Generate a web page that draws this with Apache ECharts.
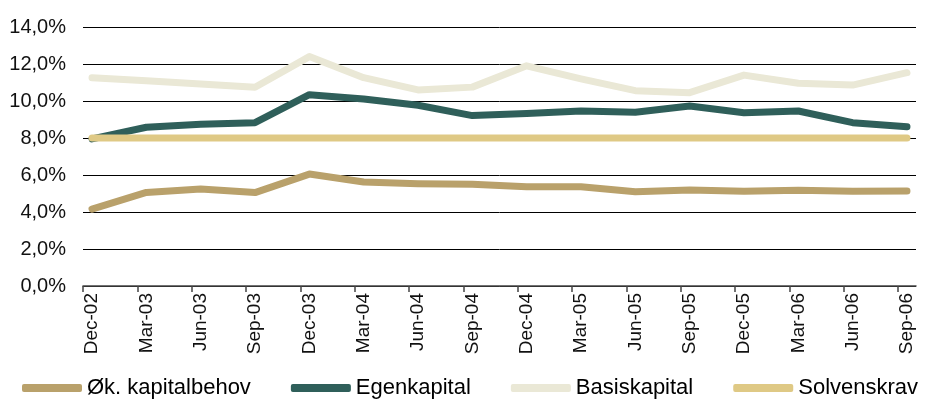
<!DOCTYPE html>
<html>
<head>
<meta charset="utf-8">
<script src="https://cdn.jsdelivr.net/npm/echarts@6/dist/echarts.min.js"></script>
<style>
  html, body { margin: 0; padding: 0; background: #fff; }
  #chart { width: 931px; height: 405px; }
</style>
</head>
<body>
<div id="chart"></div>
<script>
// kvartaler
var categories = ['Dec-02','Mar-03','Jun-03','Sep-03','Dec-03','Mar-04','Jun-04','Sep-04',
                  'Dec-04','Mar-05','Jun-05','Sep-05','Dec-05','Mar-06','Jun-06','Sep-06'];

var okKapitalbehov = [4.16, 5.06, 5.24, 5.05, 6.05, 5.62, 5.53, 5.50, 5.37, 5.37, 5.10, 5.19, 5.12, 5.17, 5.12, 5.14];
var egenkapital    = [7.95, 8.58, 8.74, 8.83, 10.34, 10.11, 9.77, 9.21, 9.33, 9.46, 9.39, 9.73, 9.37, 9.46, 8.83, 8.61];
var basiskapital   = [11.26, 11.10, 10.92, 10.74, 12.40, 11.26, 10.60, 10.75, 11.90, 11.20, 10.56, 10.45, 11.40, 10.96, 10.86, 11.53];
var solvenskrav    = [8, 8, 8, 8, 8, 8, 8, 8, 8, 8, 8, 8, 8, 8, 8, 8];

var yTicks = [0, 2, 4, 6, 8, 10, 12, 14];

var font = "'Liberation Sans', Arial, sans-serif";

function pairs(arr) {
    return arr.map(function (v, i) { return [i, v]; });
}

var idx = categories.map(function (c, i) { return i; });
var tickPos = categories.map(function (c, i) { return i - 0.166; });

function line(name, data, color) {
    return {
        name: name,
        type: 'line',
        data: pairs(data),
        showSymbol: false,
        symbol: 'none',
        lineStyle: { color: color, width: 7, cap: 'round', join: 'round' },
        itemStyle: { color: color },
        emphasis: { disabled: true }
    };
}

var chart = echarts.init(document.getElementById('chart'));
var option = {
    backgroundColor: '#fff',
    animation: false,
    grid: { left: 83, right: 15, top: 27, bottom: 119 },
    legend: {
        left: 22,
        top: 377,
        padding: 0,
        icon: 'roundRect',
        itemWidth: 60,
        itemHeight: 8,
        itemGap: 40,
        textStyle: { fontFamily: font, fontSize: 22, color: '#000' },
        data: ['Øk. kapitalbehov', 'Egenkapital', 'Basiskapital', 'Solvenskrav']
    },
    xAxis: {
        type: 'value',
        min: -0.166,
        max: 15.166,
        splitLine: { show: false },
        axisLine: { show: true, lineStyle: { color: '#444', width: 1.5 } },
        axisTick: { show: true, length: 6, customValues: tickPos, lineStyle: { color: '#444', width: 1.5 } },
        axisLabel: {
            customValues: idx,
            rotate: 90,
            margin: 7,
            fontFamily: font,
            fontSize: 19,
            color: '#111',
            formatter: function (v) { return categories[Math.round(v)]; }
        }
    },
    yAxis: {
        type: 'value',
        min: yTicks[0],
        max: yTicks[yTicks.length - 1],
        interval: 2,
        axisLine: { show: false },
        axisTick: { show: false },
        splitLine: { lineStyle: { color: '#000', width: 1 } },
        axisLabel: {
            margin: 17,
            fontFamily: font,
            fontSize: 20,
            color: '#111',
            formatter: function (v) { return v.toFixed(1).replace('.', ',') + '%'; }
        }
    },
    series: [
        line('Øk. kapitalbehov', okKapitalbehov, '#B9A16B'),
        line('Egenkapital', egenkapital, '#2F5F5A'),
        line('Basiskapital', basiskapital, '#EAE8D6'),
        line('Solvenskrav', solvenskrav, '#DFC985')
    ]
};
chart.setOption(option);
</script>
</body>
</html>
